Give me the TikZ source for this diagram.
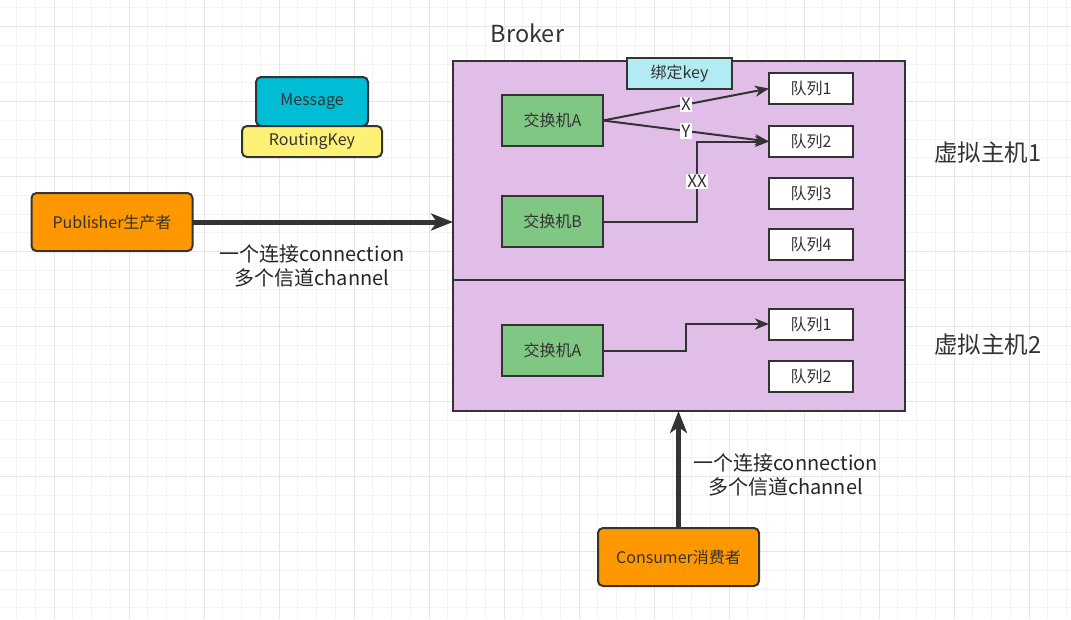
\documentclass[tikz,border=0pt]{standalone}
\usepackage{fontspec}
\setmainfont{Noto Sans CJK SC}
\usetikzlibrary{arrows.meta}
\definecolor{GRIDMINOR}{HTML}{F3F3F3}
\definecolor{GRIDMAJOR}{HTML}{E6E6E6}
\definecolor{LINE}{HTML}{333333}
\definecolor{TEXT}{HTML}{333333}
\definecolor{PURPLE}{HTML}{E1BEE7}
\definecolor{GREEN}{HTML}{81C784}
\definecolor{ORANGE}{HTML}{FF9800}
\definecolor{CYAN}{HTML}{00BCD4}
\definecolor{LIGHTCYAN}{HTML}{B2EBF2}
\definecolor{YELLOW}{HTML}{FFF176}

\begin{document}
\begin{tikzpicture}[x=1pt, y=-1pt,
    box/.style={draw=LINE, line width=2pt, rectangle, outer sep=0pt, inner sep=0pt,
        text=TEXT, font=\fontsize{16}{19}\selectfont},
    exchange/.style={box, fill=GREEN, minimum width=101pt, minimum height=51pt},
    queue/.style={box, fill=white, minimum width=84pt, minimum height=31pt},
    client/.style={box, fill=ORANGE, rounded corners=5pt, minimum width=161pt, minimum height=58pt},
    vhost/.style={box, fill=PURPLE, minimum width=452pt},
    thin/.style={draw=LINE, line width=2pt, -{Stealth[length=14pt, width=11pt, inset=4pt]}},
    thick/.style={draw=LINE, line width=5pt, -{Stealth[length=22pt, width=17pt, inset=6pt]}},
    keylabel/.style={fill=white, inner sep=1.5pt, text=TEXT, font=\fontsize{17}{19}\selectfont},
    note/.style={align=center, text=black!85, font=\fontsize{20}{24.5}\selectfont},
    title/.style={text=TEXT, font=\fontsize{23.5}{28}\selectfont}]
    \useasboundingbox (0,0) rectangle (1071,619);
    % grid
    \foreach \k in {0,...,56} {
        \draw[GRIDMINOR, line width=1pt] (16.5+18.75*\k,0) -- (16.5+18.75*\k,619);
    }
    \foreach \k in {0,...,33} {
        \draw[GRIDMINOR, line width=1pt] (0,7.95+18.75*\k) -- (1071,7.95+18.75*\k);
    }
    \foreach \k in {0,...,13} {
        \draw[GRIDMAJOR, line width=1pt] (54+75*\k,0) -- (54+75*\k,619);
    }
    \foreach \k in {0,...,7} {
        \draw[GRIDMAJOR, line width=1pt] (0,26.7+75*\k) -- (1071,26.7+75*\k);
    }
    %
    \node[title] (broker) at (527.5,33.5) {Broker};
    \node[vhost, minimum height=219pt] (host1) at (679,170.5) {};
    \node[vhost, minimum height=131pt] (host2) at (679,345.5) {};
    \node[title] (host1name) at (988,152.5) {虚拟主机1};
    \node[title] (host2name) at (988,344.5) {虚拟主机2};
    %
    \node[box, fill=LIGHTCYAN, minimum width=105pt, minimum height=31pt] (bindkey) at (679.5,73.5) {绑定key};
    \node[exchange] (exA) at (552.5,120.5) {交换机A};
    \node[exchange] (exB) at (552.5,221.5) {交换机B};
    \node[queue] (q1) at (811,88.5) {队列1};
    \node[queue] (q2) at (811,141.5) {队列2};
    \node[queue] (q3) at (811,193.5) {队列3};
    \node[queue] (q4) at (811,244) {队列4};
    %
    \node[exchange] (exAtwo) at (552.5,350.5) {交换机A};
    \node[queue] (qone) at (811,324) {队列1};
    \node[queue] (qtwo) at (811,376) {队列2};
    %
    \node[box, fill=CYAN, rounded corners=5pt, minimum width=112pt, minimum height=49pt] (msg) at (312,101.5) {Message};
    \node[box, fill=YELLOW, rounded corners=5pt, minimum width=140pt, minimum height=31pt] (rkey) at (312,141.5) {RoutingKey};
    \node[client] (pub) at (112,222) {Publisher生产者};
    \node[client] (con) at (678.5,557) {Consumer消费者};
    %
    \draw[thin] (exA.east) -- (q1.west) node[keylabel, midway] {X};
    \draw[thin] (exA.east) -- (q2.west) node[keylabel, midway] {Y};
    \draw[thin] (exB.east) -- ++(94,0) |- (q2.west) node[keylabel, pos=0.25] {XX};
    \draw[thin] (exAtwo.east) -- ++(83,0) |- (qone.west);
    %
    \draw[thick] (pub.east) -- (pub.east -| host1.west);
    \draw[thick] (con.north) -- (con.north |- host2.south);
    %
    \node[note] (pubnote) at (312,266) {一个连接connection\\多个信道channel};
    \node[note] (connote) at (785.5,475) {一个连接connection\\多个信道channel};
\end{tikzpicture}
\end{document}
